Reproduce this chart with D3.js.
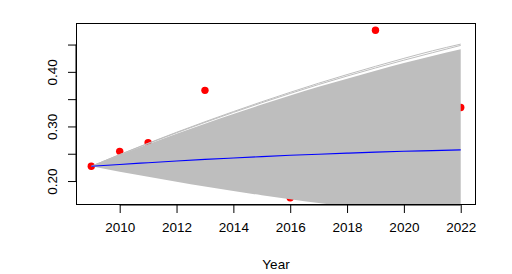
<!DOCTYPE html>
<html><head><meta charset="utf-8">
<script src="https://cdn.jsdelivr.net/npm/d3@7"></script>
<style>
html,body{margin:0;padding:0;background:#fff;}
svg{display:block;font-family:"Liberation Sans",Arial,sans-serif;}
</style></head>
<body>
<svg id="chart" width="512" height="274"></svg>
<script>
// Observed values
const years = [2009, 2010, 2011, 2013, 2016, 2019, 2022];
const observed = [0.227, 0.2544, 0.2701, 0.3661, 0.1693, 0.4763, 0.3346];

// Simulation fan envelope (yearly)
const fanYears = [2009,2010,2011,2012,2013,2014,2015,2016,2017,2018,2019,2020,2021,2022];
const fanUpper = [0.227,0.2475,0.2673,0.2865,0.305,0.3228,0.340,0.3565,0.3725,0.3876,0.402,0.416,0.4292,0.4412];
const fanLower = [0.227,0.2171,0.2077,0.1987,0.190,0.1819,0.174,0.1667,0.1598,0.1532,0.147,0.1415,0.136,0.1314];
// Outlying simulation lines above the envelope
const outlier1 = [0.227,0.2485,0.2692,0.2893,0.3086,0.3272,0.3452,0.3625,0.3792,0.3950,0.4101,0.4247,0.4385,0.4508];
const outlier2 = [0.227,0.2482,0.2686,0.2884,0.3074,0.3257,0.3434,0.3604,0.3768,0.3923,0.4071,0.4214,0.4350,0.4485];
// Mean trajectory
const meanLine = [0.2270,0.2304,0.2336,0.2367,0.2396,0.2422,0.2447,0.2471,0.2492,0.2511,0.2529,0.2545,0.2558,0.2570];

const xTicks = [2010, 2012, 2014, 2016, 2018, 2020, 2022];
const yTicks = [0.20, 0.25, 0.30, 0.35, 0.40, 0.45];
const yLabels = [0.20, 0.30, 0.40];
const xTitle = "Year";

const L = 76.5, R = 475.5, T = 23.5, B = 204.5;
const svg = d3.select("#chart");

const xr = d3.extent(years), xpad = 0.04*(xr[1]-xr[0]);
const yr = d3.extent(observed), ypad = 0.04*(yr[1]-yr[0]);
const x = d3.scaleLinear().domain([xr[0]-xpad, xr[1]+xpad]).range([L, R]);
const y = d3.scaleLinear().domain([yr[0]-ypad, yr[1]+ypad]).range([B, T]);

svg.append("clipPath").attr("id","clip").append("rect")
  .attr("x", L).attr("y", T).attr("width", R-L).attr("height", B-T);

const plot = svg.append("g").attr("clip-path","url(#clip)");

// points first (drawn under the fan)
plot.selectAll("circle").data(years).join("circle")
  .attr("cx", (d)=>x(d)).attr("cy", (d,i)=>y(observed[i])).attr("r", 3.7)
  .attr("fill", "#ff0000");

const area = d3.area().x((d,i)=>x(fanYears[i])).y0((d,i)=>y(fanLower[i])).y1((d)=>y(d)).curve(d3.curveMonotoneX);
plot.append("path").datum(fanUpper).attr("d", area).attr("fill", "#bebebe");

const line = d3.line().x((d,i)=>x(fanYears[i])).y((d)=>y(d)).curve(d3.curveMonotoneX);
[outlier1, outlier2].forEach(arr => {
  plot.append("path").datum(arr).attr("d", line).attr("fill","none")
    .attr("stroke","#bebebe").attr("stroke-width", 1);
});
plot.append("path").datum(meanLine).attr("d", line).attr("fill","none")
  .attr("stroke","#0000ff").attr("stroke-width", 1.1);

// box
svg.append("rect").attr("x", L).attr("y", T).attr("width", R-L).attr("height", B-T)
  .attr("fill","none").attr("stroke","#000").attr("stroke-width",1);

// x axis
const xAxis = d3.axisBottom(x).tickValues(xTicks).tickFormat(d3.format("d")).tickSize(8).tickPadding(9);
const gx = svg.append("g").attr("transform", `translate(0,${B+0.5})`).call(xAxis);
gx.select(".domain").attr("d", `M${x(xTicks[0])},0H${x(xTicks[xTicks.length-1])}`);
gx.selectAll("text").attr("font-size", 13.5).attr("fill","#000").attr("font-family","Liberation Sans, Arial, sans-serif");

// y axis
const yAxis = d3.axisLeft(y).tickValues(yTicks).tickSize(8).tickPadding(0)
  .tickFormat(d => yLabels.some(v => Math.abs(v-d) < 1e-9) ? d3.format(".2f")(d) : "");
const gy = svg.append("g").attr("transform", `translate(${L-0.5},0)`).call(yAxis);
gy.select(".domain").attr("d", `M0,${y(yTicks[0])}V${y(yTicks[yTicks.length-1])}`);
gy.selectAll(".tick text")
  .attr("x", null).attr("dy", null)
  .attr("transform", "translate(-24,0) rotate(-90)")
  .attr("text-anchor","middle").attr("dominant-baseline","central")
  .attr("font-size", 13.5).attr("fill","#000").attr("font-family","Liberation Sans, Arial, sans-serif");

svg.append("text").attr("x", (L+R)/2).attr("y", 264).attr("text-anchor","middle")
  .attr("dominant-baseline","central").attr("font-size", 13.5).text(xTitle);
</script>
</body></html>
